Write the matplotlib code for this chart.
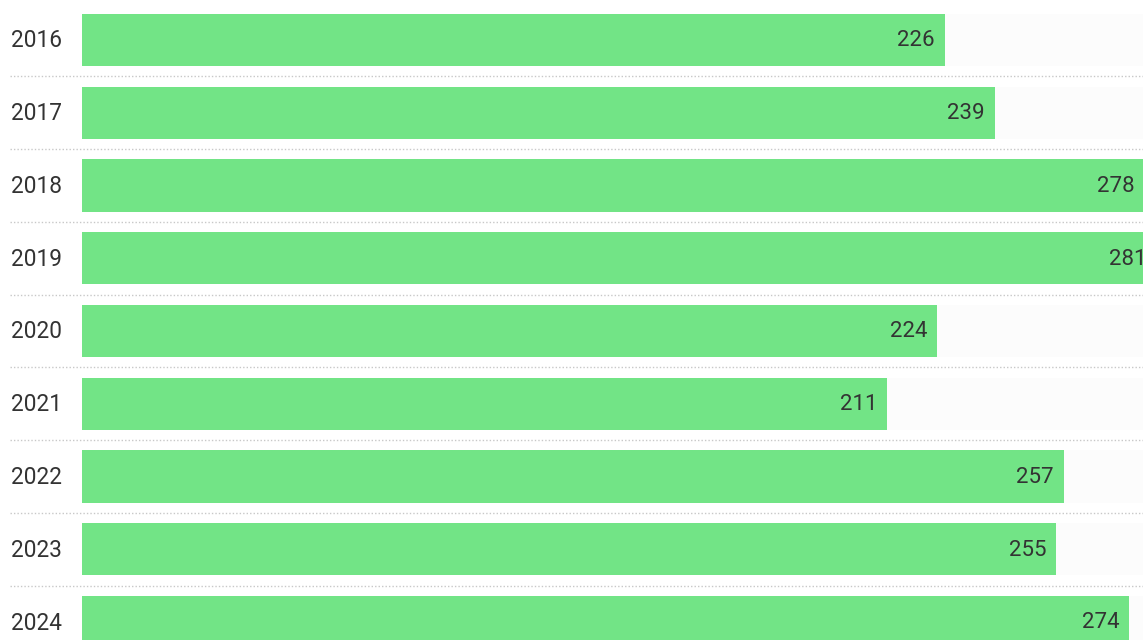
import numpy as np
import matplotlib
matplotlib.use("Agg")
import matplotlib.pyplot as plt
import matplotlib.transforms as mtransforms

years = ["2016", "2017", "2018", "2019", "2020", "2021", "2022", "2023", "2024"]
values = [226, 239, 278, 281, 224, 211, 257, 255, 274]

bar_color = "#72e486"
panel_color = "#fcfcfc"
text_color = "#333333"

plt.rcParams["font.family"] = ["Roboto", "DejaVu Sans"]

W, H = 1143, 640
fig = plt.figure(figsize=(W / 100, H / 100), dpi=100)
left_px = 82
ax = fig.add_axes([left_px / W, 0, 1 - left_px / W, 1])

y = np.arange(len(years))
xmin, xmax = 1.4, 277.6
bar_h = 0.715

# light background panel behind each bar
ax.barh(y, [xmax - xmin] * len(years), left=xmin, height=bar_h, color=panel_color, zorder=1)
ax.barh(y, values, height=bar_h, color=bar_color, zorder=2)

ax.set_xlim(xmin, xmax)
ax.set_ylim(600 / 72.75, -40 / 72.75)
ax.axis("off")

# value labels inside the bar end
offset = mtransforms.offset_copy(ax.transData, fig=fig, x=-0.10, y=-0.01, units="inches")
for yi, v in zip(y, values):
    ax.text(v, yi, str(v), transform=offset, ha="right", va="center",
            fontsize=16, color=text_color, zorder=3, clip_on=False)

# year labels on the left
blend = mtransforms.blended_transform_factory(ax.transAxes, ax.transData)
lab_off = mtransforms.offset_copy(blend, fig=fig, x=0, y=-0.01, units="inches")
x_lab = (11 - left_px) / (W - left_px)
for yi, name in zip(y, years):
    ax.text(x_lab, yi, name, transform=lab_off, ha="left", va="center",
            fontsize=16.3, color=text_color, clip_on=False)

# dotted separators between rows
x_sep = (10 - left_px) / (W - left_px)
for yi in y[:-1]:
    ax.plot([x_sep, 1], [yi + 0.5, yi + 0.5], transform=blend, color="#c8c8c8",
            linestyle=(0, (1, 1.5)), linewidth=1, clip_on=False, zorder=0)

fig.savefig("out.png", dpi=100)
